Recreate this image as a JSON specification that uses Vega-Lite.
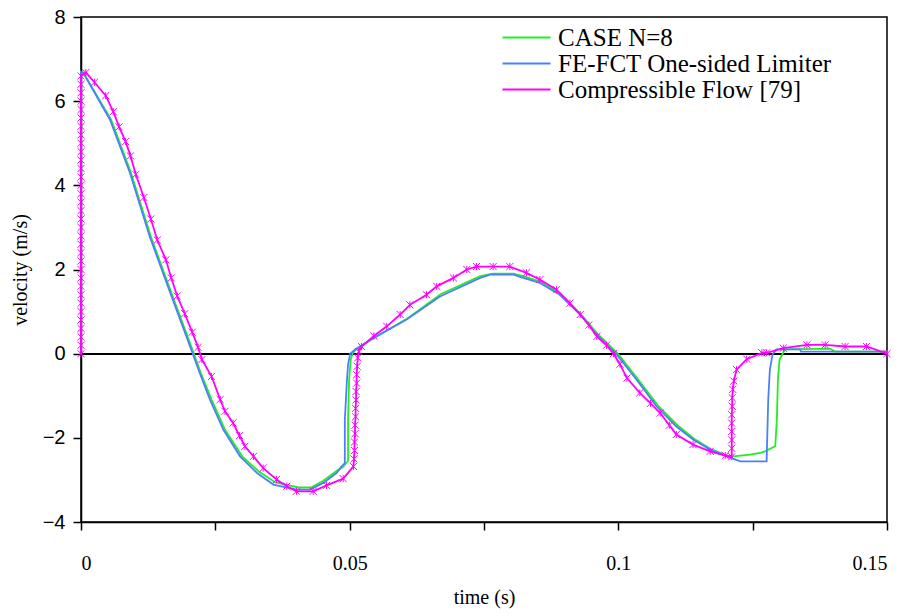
{
 "$schema": "https://vega.github.io/schema/vega-lite/v6.json",
 "width": 806, "height": 505,
 "autosize": {"type": "none"},
 "padding": {"left": 81, "top": 17, "right": 22, "bottom": 94},
 "background": "white",
 "config": {
  "view": {"stroke": "black", "strokeWidth": 1.5},
  "axis": {"grid": false, "domainColor": "black", "domainWidth": 1.5, "tickColor": "black", "tickWidth": 1.5, "tickSize": 8, "labelColor": "black", "titleColor": "black", "titleFont": "Liberation Serif", "titleFontSize": 20, "titleFontWeight": "normal"}
 },
 "data": {"values": [
  {"s":"CASE N=8","i":0,"t":0,"v":0},{"s":"CASE N=8","i":1,"t":0,"v":6.7},{"s":"CASE N=8","i":2,"t":0.0004,"v":6.68},{"s":"CASE N=8","i":3,"t":0.0056,"v":5.56},{"s":"CASE N=8","i":4,"t":0.0093,"v":4.3},{"s":"CASE N=8","i":5,"t":0.013,"v":2.78},{"s":"CASE N=8","i":6,"t":0.0168,"v":1.45},{"s":"CASE N=8","i":7,"t":0.021,"v":0},{"s":"CASE N=8","i":8,"t":0.0223,"v":-0.46},{"s":"CASE N=8","i":9,"t":0.0243,"v":-1.09},{"s":"CASE N=8","i":10,"t":0.0268,"v":-1.81},{"s":"CASE N=8","i":11,"t":0.03,"v":-2.44},{"s":"CASE N=8","i":12,"t":0.0331,"v":-2.8},{"s":"CASE N=8","i":13,"t":0.0362,"v":-3.06},{"s":"CASE N=8","i":14,"t":0.0405,"v":-3.18},{"s":"CASE N=8","i":15,"t":0.0428,"v":-3.18},{"s":"CASE N=8","i":16,"t":0.0451,"v":-3.02},{"s":"CASE N=8","i":17,"t":0.0476,"v":-2.78},{"s":"CASE N=8","i":18,"t":0.0487,"v":-2.7},{"s":"CASE N=8","i":19,"t":0.0497,"v":-2.55},{"s":"CASE N=8","i":20,"t":0.0497,"v":-1.57},{"s":"CASE N=8","i":21,"t":0.0499,"v":-0.62},{"s":"CASE N=8","i":22,"t":0.0502,"v":-0.14},{"s":"CASE N=8","i":23,"t":0.0506,"v":0.02},{"s":"CASE N=8","i":24,"t":0.0512,"v":0.1},{"s":"CASE N=8","i":25,"t":0.0546,"v":0.38},{"s":"CASE N=8","i":26,"t":0.0608,"v":0.84},{"s":"CASE N=8","i":27,"t":0.067,"v":1.42},{"s":"CASE N=8","i":28,"t":0.0743,"v":1.84},{"s":"CASE N=8","i":29,"t":0.0767,"v":1.9},{"s":"CASE N=8","i":30,"t":0.0805,"v":1.9},{"s":"CASE N=8","i":31,"t":0.0823,"v":1.84},{"s":"CASE N=8","i":32,"t":0.0857,"v":1.7},{"s":"CASE N=8","i":33,"t":0.0891,"v":1.43},{"s":"CASE N=8","i":34,"t":0.0931,"v":0.93},{"s":"CASE N=8","i":35,"t":0.0963,"v":0.45},{"s":"CASE N=8","i":36,"t":0.0999,"v":0},{"s":"CASE N=8","i":37,"t":0.1036,"v":-0.6},{"s":"CASE N=8","i":38,"t":0.1073,"v":-1.22},{"s":"CASE N=8","i":39,"t":0.111,"v":-1.7},{"s":"CASE N=8","i":40,"t":0.1141,"v":-2.02},{"s":"CASE N=8","i":41,"t":0.1171,"v":-2.26},{"s":"CASE N=8","i":42,"t":0.1202,"v":-2.42},{"s":"CASE N=8","i":43,"t":0.1214,"v":-2.44},{"s":"CASE N=8","i":44,"t":0.1245,"v":-2.4},{"s":"CASE N=8","i":45,"t":0.1264,"v":-2.36},{"s":"CASE N=8","i":46,"t":0.1273,"v":-2.32},{"s":"CASE N=8","i":47,"t":0.1292,"v":-2.2},{"s":"CASE N=8","i":48,"t":0.1295,"v":-1.57},{"s":"CASE N=8","i":49,"t":0.1297,"v":-0.62},{"s":"CASE N=8","i":50,"t":0.13,"v":-0.14},{"s":"CASE N=8","i":51,"t":0.131,"v":0.1},{"s":"CASE N=8","i":52,"t":0.1394,"v":0.12},{"s":"CASE N=8","i":53,"t":0.1403,"v":0.05},{"s":"CASE N=8","i":54,"t":0.15,"v":0.05},{"s":"CASE N=8","i":55,"t":0.15,"v":0},
  {"s":"FE-FCT One-sided Limiter","i":0,"t":0,"v":0},{"s":"FE-FCT One-sided Limiter","i":1,"t":0,"v":6.7},{"s":"FE-FCT One-sided Limiter","i":2,"t":0.0004,"v":6.68},{"s":"FE-FCT One-sided Limiter","i":3,"t":0.0054,"v":5.56},{"s":"FE-FCT One-sided Limiter","i":4,"t":0.0091,"v":4.3},{"s":"FE-FCT One-sided Limiter","i":5,"t":0.0128,"v":2.78},{"s":"FE-FCT One-sided Limiter","i":6,"t":0.0166,"v":1.45},{"s":"FE-FCT One-sided Limiter","i":7,"t":0.0208,"v":0},{"s":"FE-FCT One-sided Limiter","i":8,"t":0.0221,"v":-0.46},{"s":"FE-FCT One-sided Limiter","i":9,"t":0.024,"v":-1.09},{"s":"FE-FCT One-sided Limiter","i":10,"t":0.0265,"v":-1.81},{"s":"FE-FCT One-sided Limiter","i":11,"t":0.0296,"v":-2.44},{"s":"FE-FCT One-sided Limiter","i":12,"t":0.0327,"v":-2.83},{"s":"FE-FCT One-sided Limiter","i":13,"t":0.0358,"v":-3.11},{"s":"FE-FCT One-sided Limiter","i":14,"t":0.0401,"v":-3.23},{"s":"FE-FCT One-sided Limiter","i":15,"t":0.0426,"v":-3.23},{"s":"FE-FCT One-sided Limiter","i":16,"t":0.0451,"v":-3.07},{"s":"FE-FCT One-sided Limiter","i":17,"t":0.0476,"v":-2.83},{"s":"FE-FCT One-sided Limiter","i":18,"t":0.0485,"v":-2.68},{"s":"FE-FCT One-sided Limiter","i":19,"t":0.0491,"v":-2.6},{"s":"FE-FCT One-sided Limiter","i":20,"t":0.0491,"v":-1.57},{"s":"FE-FCT One-sided Limiter","i":21,"t":0.0493,"v":-1.09},{"s":"FE-FCT One-sided Limiter","i":22,"t":0.0495,"v":-0.62},{"s":"FE-FCT One-sided Limiter","i":23,"t":0.0497,"v":-0.26},{"s":"FE-FCT One-sided Limiter","i":24,"t":0.0501,"v":0},{"s":"FE-FCT One-sided Limiter","i":25,"t":0.051,"v":0.1},{"s":"FE-FCT One-sided Limiter","i":26,"t":0.0544,"v":0.37},{"s":"FE-FCT One-sided Limiter","i":27,"t":0.0606,"v":0.81},{"s":"FE-FCT One-sided Limiter","i":28,"t":0.0668,"v":1.36},{"s":"FE-FCT One-sided Limiter","i":29,"t":0.0743,"v":1.8},{"s":"FE-FCT One-sided Limiter","i":30,"t":0.0761,"v":1.88},{"s":"FE-FCT One-sided Limiter","i":31,"t":0.0805,"v":1.88},{"s":"FE-FCT One-sided Limiter","i":32,"t":0.0823,"v":1.8},{"s":"FE-FCT One-sided Limiter","i":33,"t":0.0854,"v":1.68},{"s":"FE-FCT One-sided Limiter","i":34,"t":0.0891,"v":1.4},{"s":"FE-FCT One-sided Limiter","i":35,"t":0.0929,"v":0.93},{"s":"FE-FCT One-sided Limiter","i":36,"t":0.096,"v":0.45},{"s":"FE-FCT One-sided Limiter","i":37,"t":0.0997,"v":-0.02},{"s":"FE-FCT One-sided Limiter","i":38,"t":0.1034,"v":-0.62},{"s":"FE-FCT One-sided Limiter","i":39,"t":0.1071,"v":-1.25},{"s":"FE-FCT One-sided Limiter","i":40,"t":0.1108,"v":-1.73},{"s":"FE-FCT One-sided Limiter","i":41,"t":0.1139,"v":-2.04},{"s":"FE-FCT One-sided Limiter","i":42,"t":0.1171,"v":-2.28},{"s":"FE-FCT One-sided Limiter","i":43,"t":0.1202,"v":-2.44},{"s":"FE-FCT One-sided Limiter","i":44,"t":0.1227,"v":-2.56},{"s":"FE-FCT One-sided Limiter","i":45,"t":0.1276,"v":-2.56},{"s":"FE-FCT One-sided Limiter","i":46,"t":0.1277,"v":-2.04},{"s":"FE-FCT One-sided Limiter","i":47,"t":0.1279,"v":-1.09},{"s":"FE-FCT One-sided Limiter","i":48,"t":0.1282,"v":-0.38},{"s":"FE-FCT One-sided Limiter","i":49,"t":0.1287,"v":-0.02},{"s":"FE-FCT One-sided Limiter","i":50,"t":0.1294,"v":0.1},{"s":"FE-FCT One-sided Limiter","i":51,"t":0.1338,"v":0.1},{"s":"FE-FCT One-sided Limiter","i":52,"t":0.134,"v":0.05},{"s":"FE-FCT One-sided Limiter","i":53,"t":0.15,"v":0.05},{"s":"FE-FCT One-sided Limiter","i":54,"t":0.15,"v":0},
  {"s":"Compressible Flow [79]","i":0,"t":0,"v":0},{"s":"Compressible Flow [79]","i":1,"t":0,"v":0.2},{"s":"Compressible Flow [79]","i":2,"t":0,"v":0.4},{"s":"Compressible Flow [79]","i":3,"t":0,"v":0.6},{"s":"Compressible Flow [79]","i":4,"t":0,"v":0.8},{"s":"Compressible Flow [79]","i":5,"t":0,"v":1.0},{"s":"Compressible Flow [79]","i":6,"t":0,"v":1.2},{"s":"Compressible Flow [79]","i":7,"t":0,"v":1.4},{"s":"Compressible Flow [79]","i":8,"t":0,"v":1.6},{"s":"Compressible Flow [79]","i":9,"t":0,"v":1.8},{"s":"Compressible Flow [79]","i":10,"t":0,"v":2.0},{"s":"Compressible Flow [79]","i":11,"t":0,"v":2.2},{"s":"Compressible Flow [79]","i":12,"t":0,"v":2.4},{"s":"Compressible Flow [79]","i":13,"t":0,"v":2.6},{"s":"Compressible Flow [79]","i":14,"t":0,"v":2.8},{"s":"Compressible Flow [79]","i":15,"t":0,"v":3.0},{"s":"Compressible Flow [79]","i":16,"t":0,"v":3.2},{"s":"Compressible Flow [79]","i":17,"t":0,"v":3.4},{"s":"Compressible Flow [79]","i":18,"t":0,"v":3.6},{"s":"Compressible Flow [79]","i":19,"t":0,"v":3.8},{"s":"Compressible Flow [79]","i":20,"t":0,"v":4.0},{"s":"Compressible Flow [79]","i":21,"t":0,"v":4.2},{"s":"Compressible Flow [79]","i":22,"t":0,"v":4.4},{"s":"Compressible Flow [79]","i":23,"t":0,"v":4.6},{"s":"Compressible Flow [79]","i":24,"t":0,"v":4.8},{"s":"Compressible Flow [79]","i":25,"t":0,"v":5.0},{"s":"Compressible Flow [79]","i":26,"t":0,"v":5.2},{"s":"Compressible Flow [79]","i":27,"t":0,"v":5.4},{"s":"Compressible Flow [79]","i":28,"t":0,"v":5.6},{"s":"Compressible Flow [79]","i":29,"t":0,"v":5.8},{"s":"Compressible Flow [79]","i":30,"t":0,"v":6.0},{"s":"Compressible Flow [79]","i":31,"t":0,"v":6.2},{"s":"Compressible Flow [79]","i":32,"t":0,"v":6.4},{"s":"Compressible Flow [79]","i":33,"t":0,"v":6.6},
  {"s":"Compressible Flow [79]","i":34,"t":0.0009,"v":6.68},{"s":"Compressible Flow [79]","i":35,"t":0.0025,"v":6.45},{"s":"Compressible Flow [79]","i":36,"t":0.0046,"v":6.13},{"s":"Compressible Flow [79]","i":37,"t":0.006,"v":5.75},{"s":"Compressible Flow [79]","i":38,"t":0.0071,"v":5.39},{"s":"Compressible Flow [79]","i":39,"t":0.0083,"v":5.04},{"s":"Compressible Flow [79]","i":40,"t":0.0092,"v":4.7},{"s":"Compressible Flow [79]","i":41,"t":0.0102,"v":4.26},{"s":"Compressible Flow [79]","i":42,"t":0.0117,"v":3.71},{"s":"Compressible Flow [79]","i":43,"t":0.013,"v":3.2},{"s":"Compressible Flow [79]","i":44,"t":0.0142,"v":2.7},{"s":"Compressible Flow [79]","i":45,"t":0.0158,"v":2.23},{"s":"Compressible Flow [79]","i":46,"t":0.0168,"v":1.8},{"s":"Compressible Flow [79]","i":47,"t":0.0179,"v":1.37},{"s":"Compressible Flow [79]","i":48,"t":0.0193,"v":0.95},{"s":"Compressible Flow [79]","i":49,"t":0.0207,"v":0.51},{"s":"Compressible Flow [79]","i":50,"t":0.0218,"v":0.15},{"s":"Compressible Flow [79]","i":51,"t":0.0225,"v":-0.14},{"s":"Compressible Flow [79]","i":52,"t":0.0243,"v":-0.54},{"s":"Compressible Flow [79]","i":53,"t":0.0259,"v":-1.09},{"s":"Compressible Flow [79]","i":54,"t":0.0268,"v":-1.37},{"s":"Compressible Flow [79]","i":55,"t":0.0283,"v":-1.65},{"s":"Compressible Flow [79]","i":56,"t":0.0295,"v":-1.95},{"s":"Compressible Flow [79]","i":57,"t":0.0305,"v":-2.2},{"s":"Compressible Flow [79]","i":58,"t":0.0321,"v":-2.44},{"s":"Compressible Flow [79]","i":59,"t":0.0339,"v":-2.72},{"s":"Compressible Flow [79]","i":60,"t":0.0364,"v":-2.99},{"s":"Compressible Flow [79]","i":61,"t":0.0383,"v":-3.15},{"s":"Compressible Flow [79]","i":62,"t":0.0401,"v":-3.27},{"s":"Compressible Flow [79]","i":63,"t":0.0432,"v":-3.27},{"s":"Compressible Flow [79]","i":64,"t":0.0457,"v":-3.13},{"s":"Compressible Flow [79]","i":65,"t":0.0488,"v":-2.97},{"s":"Compressible Flow [79]","i":66,"t":0.0507,"v":-2.68},{"s":"Compressible Flow [79]","i":67,"t":0.0508,"v":-2.5},{"s":"Compressible Flow [79]","i":68,"t":0.0509,"v":-2.3},{"s":"Compressible Flow [79]","i":69,"t":0.0509,"v":-2.1},{"s":"Compressible Flow [79]","i":70,"t":0.051,"v":-1.9},{"s":"Compressible Flow [79]","i":71,"t":0.051,"v":-1.7},{"s":"Compressible Flow [79]","i":72,"t":0.0511,"v":-1.5},{"s":"Compressible Flow [79]","i":73,"t":0.0511,"v":-1.3},{"s":"Compressible Flow [79]","i":74,"t":0.0512,"v":-1.1},{"s":"Compressible Flow [79]","i":75,"t":0.0512,"v":-0.9},{"s":"Compressible Flow [79]","i":76,"t":0.0513,"v":-0.7},{"s":"Compressible Flow [79]","i":77,"t":0.0513,"v":-0.5},{"s":"Compressible Flow [79]","i":78,"t":0.0514,"v":-0.3},{"s":"Compressible Flow [79]","i":79,"t":0.0515,"v":-0.1},{"s":"Compressible Flow [79]","i":80,"t":0.0517,"v":0.05},
  {"s":"Compressible Flow [79]","i":81,"t":0.0522,"v":0.17},{"s":"Compressible Flow [79]","i":82,"t":0.0545,"v":0.42},{"s":"Compressible Flow [79]","i":83,"t":0.0569,"v":0.65},{"s":"Compressible Flow [79]","i":84,"t":0.0594,"v":0.93},{"s":"Compressible Flow [79]","i":85,"t":0.0612,"v":1.16},{"s":"Compressible Flow [79]","i":86,"t":0.0643,"v":1.4},{"s":"Compressible Flow [79]","i":87,"t":0.0662,"v":1.6},{"s":"Compressible Flow [79]","i":88,"t":0.0693,"v":1.8},{"s":"Compressible Flow [79]","i":89,"t":0.0718,"v":2.0},{"s":"Compressible Flow [79]","i":90,"t":0.0736,"v":2.07},{"s":"Compressible Flow [79]","i":91,"t":0.0767,"v":2.07},{"s":"Compressible Flow [79]","i":92,"t":0.0798,"v":2.07},{"s":"Compressible Flow [79]","i":93,"t":0.0829,"v":1.92},{"s":"Compressible Flow [79]","i":94,"t":0.0854,"v":1.76},{"s":"Compressible Flow [79]","i":95,"t":0.0885,"v":1.52},{"s":"Compressible Flow [79]","i":96,"t":0.091,"v":1.2},{"s":"Compressible Flow [79]","i":97,"t":0.0929,"v":0.93},{"s":"Compressible Flow [79]","i":98,"t":0.0945,"v":0.68},{"s":"Compressible Flow [79]","i":99,"t":0.096,"v":0.41},{"s":"Compressible Flow [79]","i":100,"t":0.0978,"v":0.2},{"s":"Compressible Flow [79]","i":101,"t":0.0991,"v":0},{"s":"Compressible Flow [79]","i":102,"t":0.1003,"v":-0.25},{"s":"Compressible Flow [79]","i":103,"t":0.1016,"v":-0.58},{"s":"Compressible Flow [79]","i":104,"t":0.104,"v":-0.93},{"s":"Compressible Flow [79]","i":105,"t":0.106,"v":-1.18},{"s":"Compressible Flow [79]","i":106,"t":0.1078,"v":-1.41},{"s":"Compressible Flow [79]","i":107,"t":0.1095,"v":-1.7},{"s":"Compressible Flow [79]","i":108,"t":0.1108,"v":-1.92},{"s":"Compressible Flow [79]","i":109,"t":0.1139,"v":-2.16},{"s":"Compressible Flow [79]","i":110,"t":0.1171,"v":-2.32},{"s":"Compressible Flow [79]","i":111,"t":0.1199,"v":-2.42},{"s":"Compressible Flow [79]","i":112,"t":0.1211,"v":-2.45},{"s":"Compressible Flow [79]","i":113,"t":0.1211,"v":-2.25},{"s":"Compressible Flow [79]","i":114,"t":0.1211,"v":-2.05},{"s":"Compressible Flow [79]","i":115,"t":0.1211,"v":-1.85},{"s":"Compressible Flow [79]","i":116,"t":0.1211,"v":-1.65},{"s":"Compressible Flow [79]","i":117,"t":0.1211,"v":-1.45},{"s":"Compressible Flow [79]","i":118,"t":0.1212,"v":-1.25},{"s":"Compressible Flow [79]","i":119,"t":0.1212,"v":-1.05},{"s":"Compressible Flow [79]","i":120,"t":0.1213,"v":-0.85},{"s":"Compressible Flow [79]","i":121,"t":0.1215,"v":-0.65},{"s":"Compressible Flow [79]","i":122,"t":0.122,"v":-0.38},{"s":"Compressible Flow [79]","i":123,"t":0.1239,"v":-0.13},{"s":"Compressible Flow [79]","i":124,"t":0.1267,"v":0.02},{"s":"Compressible Flow [79]","i":125,"t":0.1276,"v":0.02},{"s":"Compressible Flow [79]","i":126,"t":0.1307,"v":0.13},{"s":"Compressible Flow [79]","i":127,"t":0.1351,"v":0.21},{"s":"Compressible Flow [79]","i":128,"t":0.1385,"v":0.21},{"s":"Compressible Flow [79]","i":129,"t":0.1422,"v":0.17},{"s":"Compressible Flow [79]","i":130,"t":0.1462,"v":0.17},{"s":"Compressible Flow [79]","i":131,"t":0.15,"v":0}
 ]},
 "encoding": {
  "x": {"field": "t", "type": "quantitative", "scale": {"domain": [0, 0.15], "nice": false}, "axis": {"title": "time (s)", "values": [0, 0.025, 0.05, 0.075, 0.1, 0.125, 0.15], "format": ".3~f", "labelExpr": "round(datum.value*40) % 2 == 0 ? datum.label : ''", "labelFont": "Liberation Serif", "labelFontSize": 20, "labelPadding": 23, "titlePadding": 14}},
  "y": {"field": "v", "type": "quantitative", "scale": {"domain": [-4, 8], "nice": false}, "axis": {"title": "velocity (m/s)", "values": [-4, -2, 0, 2, 4, 6, 8], "labelFont": "Liberation Sans", "labelFontSize": 20, "labelPadding": 8, "titlePadding": 12}}
 },
 "layer": [
  {"mark": {"type": "rule", "color": "black", "strokeWidth": 1.5}, "encoding": {"x": {"value": 0}, "x2": {"value": 806}, "y": {"datum": 0}}},
  {"mark": {"type": "line", "strokeWidth": 1.8, "interpolate": "linear"},
   "encoding": {
    "color": {"field": "s", "type": "nominal", "sort": ["CASE N=8", "FE-FCT One-sided Limiter", "Compressible Flow [79]"], "scale": {"domain": ["CASE N=8", "FE-FCT One-sided Limiter", "Compressible Flow [79]"], "range": ["#22ee22", "#4a80ff", "#ff00ff"]},
     "legend": {"title": null, "orient": "none", "legendX": 433, "legendY": 8, "symbolType": "M-4,0L4,0", "symbolSize": 144, "symbolStrokeWidth": 2, "labelFont": "Liberation Serif", "labelFontSize": 25, "labelColor": "black", "labelOffset": 19, "labelLimit": 400, "rowPadding": 0, "padding": 0}},
    "order": {"field": "i", "type": "quantitative"}
   }},
  {"transform": [{"filter": "datum.s == 'Compressible Flow [79]'"}],
   "mark": {"type": "point", "shape": "M-1,-1L1,1M-1,1L1,-1M0,-1L0,1", "filled": false, "color": "#ff00ff", "strokeWidth": 1, "size": 50, "opacity": 1}}
 ]
}
